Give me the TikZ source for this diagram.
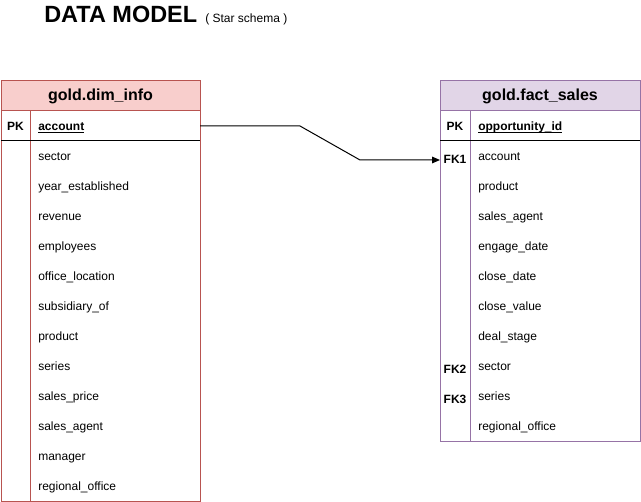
\documentclass[tikz,border=0pt]{standalone}
\usepackage{fontspec}
\setmainfont{Liberation Sans}
\usetikzlibrary{arrows.meta}
\definecolor{dimfill}{HTML}{F8CECC}
\definecolor{dimline}{HTML}{B85450}
\definecolor{factfill}{HTML}{E1D5E7}
\definecolor{factline}{HTML}{9673A6}
\tikzset{
  tbl/.style={line width=0.75pt},
  headtext/.style={anchor=base, inner sep=0pt, font=\bfseries\fontsize{12}{14}\selectfont},
  fieldtext/.style={anchor=base west, inner sep=0pt, font=\fontsize{9}{11}\selectfont},
  pktext/.style={anchor=base west, inner sep=0pt, font=\bfseries\fontsize{9}{11}\selectfont},
  keytext/.style={anchor=base, inner sep=0pt, font=\bfseries\fontsize{9}{11}\selectfont},
  link/.style={line width=0.75pt, -{Stealth[length=6pt,width=5pt,inset=0pt]}}
}

\begin{document}
\begin{tikzpicture}[x=0.75pt,y=-0.75pt]
\useasboundingbox (0,0) rectangle (641,502);

% title
\node[anchor=base west, inner sep=0pt, font=\bfseries\fontsize{17.6}{20}\selectfont] (title) at (44,23) {DATA MODEL};
\node[anchor=base west, inner sep=0pt, font=\fontsize{9}{11}\selectfont] (subtitle) at (205,23) {( Star schema )};

% gold.dim_info
\fill[dimfill] (1,81) rectangle (200,111);
\draw[tbl, dimline] (1,81) rectangle (200,501);
\draw[tbl, dimline] (1,111) -- (200,111);
\draw[tbl, dimline] (30,111) -- (30,501);
\draw[tbl] (1,141) -- (200,141);
\node[headtext] (dimhead) at (100.5,101) {gold.dim\_info};
\node[keytext] (dimpk) at (15.5,130.5) {PK};
\node[pktext] (dimaccount) at (38,130.5) {\underline{\smash{account}}};
\foreach \fld [count=\i] in {sector, year\_established, revenue, employees,
    office\_location, subsidiary\_of, product, series, sales\_price,
    sales\_agent, manager, regional\_office}
  \node[fieldtext] (dimf\i) at (38,130.5+30*\i) {\fld};
\coordinate (dimout) at (200,126);

% gold.fact_sales
\fill[factfill] (440,81) rectangle (640,111);
\draw[tbl, factline] (440,81) rectangle (640,441);
\draw[tbl, factline] (440,111) -- (640,111);
\draw[tbl, factline] (470,111) -- (470,441);
\draw[tbl] (440,141) -- (640,141);
\node[headtext] (facthead) at (540,101) {gold.fact\_sales};
\node[keytext] (factpk) at (455,130.5) {PK};
\node[pktext] (factid) at (478,130.5) {\underline{\smash{opportunity\_id}}};
\foreach \fld [count=\i] in {account, product, sales\_agent, engage\_date,
    close\_date, close\_value, deal\_stage, sector, series, regional\_office}
  \node[fieldtext] (factf\i) at (478,130.5+30*\i) {\fld};
\foreach \k/\r in {FK1/1, FK2/8, FK3/9}
  \node[keytext] (factfk\r) at (455,133.5+30*\r) {\k};
\coordinate (factin) at (440,160);

% relation
\draw[link] (dimout) -- ++(100,0) -- ++(60,34) -- (factin);
\end{tikzpicture}
\end{document}
